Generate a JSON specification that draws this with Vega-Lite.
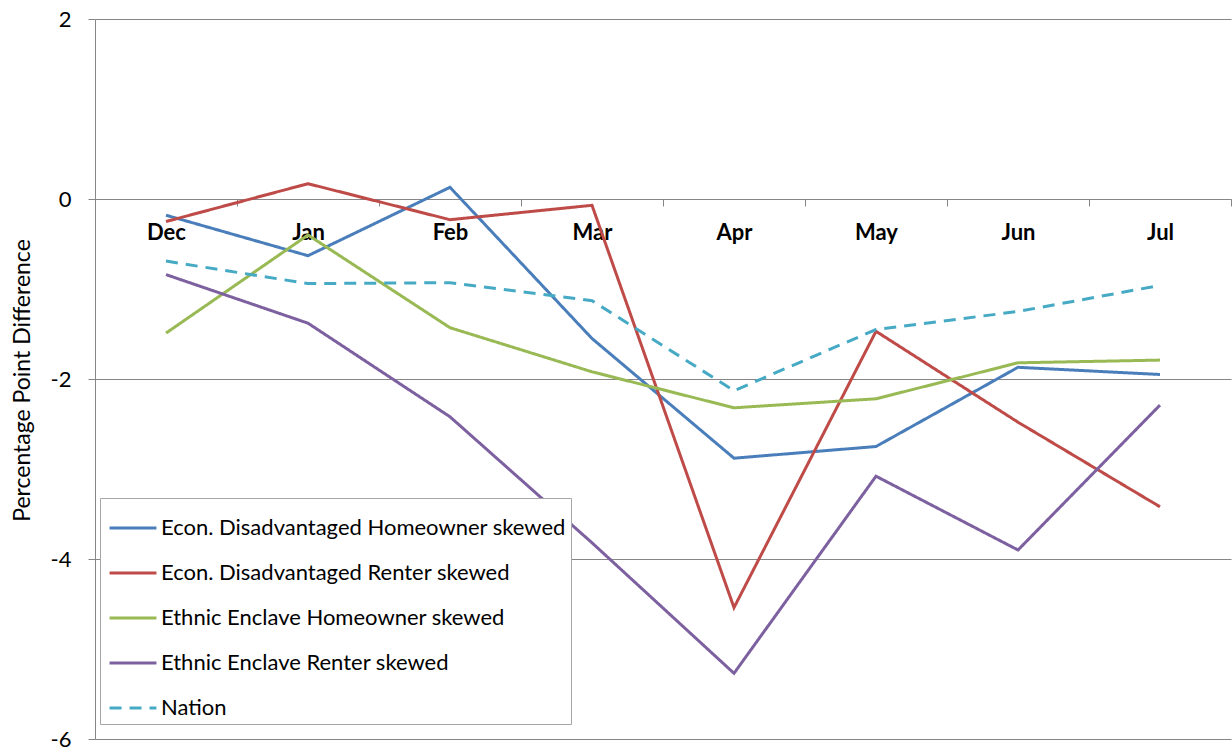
{
  "$schema": "https://vega.github.io/schema/vega-lite/v6.json",
  "width": 1136,
  "height": 720,
  "autosize": {"type": "none"},
  "padding": {"left": 95, "top": 19, "right": 1, "bottom": 10},
  "background": "white",
  "config": {
    "view": {"stroke": null},
    "font": "Lato",
    "axis": {"labelFont": "Lato", "titleFont": "Lato", "labelColor": "black", "titleColor": "black"}
  },
  "data": {
    "values": [
      {"month": "Dec", "series": "Econ. Disadvantaged Homeowner skewed", "value": -0.18},
      {"month": "Jan", "series": "Econ. Disadvantaged Homeowner skewed", "value": -0.63},
      {"month": "Feb", "series": "Econ. Disadvantaged Homeowner skewed", "value": 0.13},
      {"month": "Mar", "series": "Econ. Disadvantaged Homeowner skewed", "value": -1.55},
      {"month": "Apr", "series": "Econ. Disadvantaged Homeowner skewed", "value": -2.88},
      {"month": "May", "series": "Econ. Disadvantaged Homeowner skewed", "value": -2.75},
      {"month": "Jun", "series": "Econ. Disadvantaged Homeowner skewed", "value": -1.87},
      {"month": "Jul", "series": "Econ. Disadvantaged Homeowner skewed", "value": -1.95},

      {"month": "Dec", "series": "Econ. Disadvantaged Renter skewed", "value": -0.25},
      {"month": "Jan", "series": "Econ. Disadvantaged Renter skewed", "value": 0.17},
      {"month": "Feb", "series": "Econ. Disadvantaged Renter skewed", "value": -0.23},
      {"month": "Mar", "series": "Econ. Disadvantaged Renter skewed", "value": -0.07},
      {"month": "Apr", "series": "Econ. Disadvantaged Renter skewed", "value": -4.54},
      {"month": "May", "series": "Econ. Disadvantaged Renter skewed", "value": -1.47},
      {"month": "Jun", "series": "Econ. Disadvantaged Renter skewed", "value": -2.48},
      {"month": "Jul", "series": "Econ. Disadvantaged Renter skewed", "value": -3.42},

      {"month": "Dec", "series": "Ethnic Enclave Homeowner skewed", "value": -1.49},
      {"month": "Jan", "series": "Ethnic Enclave Homeowner skewed", "value": -0.4},
      {"month": "Feb", "series": "Ethnic Enclave Homeowner skewed", "value": -1.43},
      {"month": "Mar", "series": "Ethnic Enclave Homeowner skewed", "value": -1.92},
      {"month": "Apr", "series": "Ethnic Enclave Homeowner skewed", "value": -2.32},
      {"month": "May", "series": "Ethnic Enclave Homeowner skewed", "value": -2.22},
      {"month": "Jun", "series": "Ethnic Enclave Homeowner skewed", "value": -1.82},
      {"month": "Jul", "series": "Ethnic Enclave Homeowner skewed", "value": -1.79},

      {"month": "Dec", "series": "Ethnic Enclave Renter skewed", "value": -0.84},
      {"month": "Jan", "series": "Ethnic Enclave Renter skewed", "value": -1.38},
      {"month": "Feb", "series": "Ethnic Enclave Renter skewed", "value": -2.42},
      {"month": "Mar", "series": "Ethnic Enclave Renter skewed", "value": -3.82},
      {"month": "Apr", "series": "Ethnic Enclave Renter skewed", "value": -5.27},
      {"month": "May", "series": "Ethnic Enclave Renter skewed", "value": -3.08},
      {"month": "Jun", "series": "Ethnic Enclave Renter skewed", "value": -3.9},
      {"month": "Jul", "series": "Ethnic Enclave Renter skewed", "value": -2.29},

      {"month": "Dec", "series": "Nation", "value": -0.69},
      {"month": "Jan", "series": "Nation", "value": -0.94},
      {"month": "Feb", "series": "Nation", "value": -0.93},
      {"month": "Mar", "series": "Nation", "value": -1.13},
      {"month": "Apr", "series": "Nation", "value": -2.13},
      {"month": "May", "series": "Nation", "value": -1.45},
      {"month": "Jun", "series": "Nation", "value": -1.25},
      {"month": "Jul", "series": "Nation", "value": -0.96}
    ]
  },
  "mark": {"type": "line", "strokeWidth": 3, "strokeJoin": "miter"},
  "encoding": {
    "x": {
      "field": "month",
      "type": "ordinal",
      "sort": ["Dec", "Jan", "Feb", "Mar", "Apr", "May", "Jun", "Jul"],
      "scale": {"type": "band", "paddingInner": 0, "paddingOuter": 0},
      "axis": {
        "title": null,
        "orient": "bottom",
        "offset": -540,
        "domainColor": "#868686",
        "domainWidth": 1,
        "tickBand": "extent",
        "tickColor": "#868686",
        "tickSize": 7,
        "labelAngle": 0,
        "labelFontSize": 22,
        "labelFontWeight": "bold",
        "labelPadding": 16,
        "grid": false
      }
    },
    "y": {
      "field": "value",
      "type": "quantitative",
      "scale": {"domain": [-6, 2], "nice": false, "zero": false},
      "axis": {
        "title": "Percentage Point Difference",
        "values": [-6, -4, -2, 0, 2],
        "labelExpr": "'' + datum.value",
        "domainColor": "#868686",
        "tickColor": "#868686",
        "tickSize": 7,
        "labelFontSize": 22,
        "labelPadding": 17,
        "gridColor": "#868686",
        "gridWidth": 1,
        "titleFontSize": 23,
        "titleFontWeight": "normal",
        "titleX": -73,
        "titleY": 361,
        "titleAngle": -90,
        "titleBaseline": "middle",
        "titleAlign": "center"
      }
    },
    "color": {
      "field": "series",
      "type": "nominal",
      "scale": {
        "domain": ["Econ. Disadvantaged Homeowner skewed", "Econ. Disadvantaged Renter skewed", "Ethnic Enclave Homeowner skewed", "Ethnic Enclave Renter skewed", "Nation"],
        "range": ["#4A7EBB", "#BE4B48", "#98B954", "#7D60A0", "#46AAC5"]
      },
      "legend": {
        "title": null,
        "orient": "none",
        "legendX": 5,
        "legendY": 479,
        "fillColor": "white",
        "strokeColor": "#a6a6a6",
        "padding": 5,
        "symbolOffset": 3,
        "symbolType": "stroke",
        "symbolSize": 2200,
        "symbolStrokeWidth": 3,
        "labelFontSize": 22,
        "labelFont": "Lato",
        "labelColor": "black",
        "labelLimit": 700,
        "labelOffset": 3,
        "rowPadding": 9
      }
    },
    "strokeDash": {
      "field": "series",
      "type": "nominal",
      "scale": {
        "domain": ["Econ. Disadvantaged Homeowner skewed", "Econ. Disadvantaged Renter skewed", "Ethnic Enclave Homeowner skewed", "Ethnic Enclave Renter skewed", "Nation"],
        "range": [[1, 0], [1, 0], [1, 0], [1, 0], [12, 8]]
      },
      "legend": {
        "title": null,
        "orient": "none",
        "legendX": 5,
        "legendY": 479,
        "fillColor": "white",
        "strokeColor": "#a6a6a6",
        "padding": 5,
        "symbolOffset": 3,
        "symbolType": "stroke",
        "symbolSize": 2200,
        "symbolStrokeWidth": 3,
        "labelFontSize": 22,
        "labelFont": "Lato",
        "labelColor": "black",
        "labelLimit": 700,
        "labelOffset": 3,
        "rowPadding": 9
      }
    }
  }
}
